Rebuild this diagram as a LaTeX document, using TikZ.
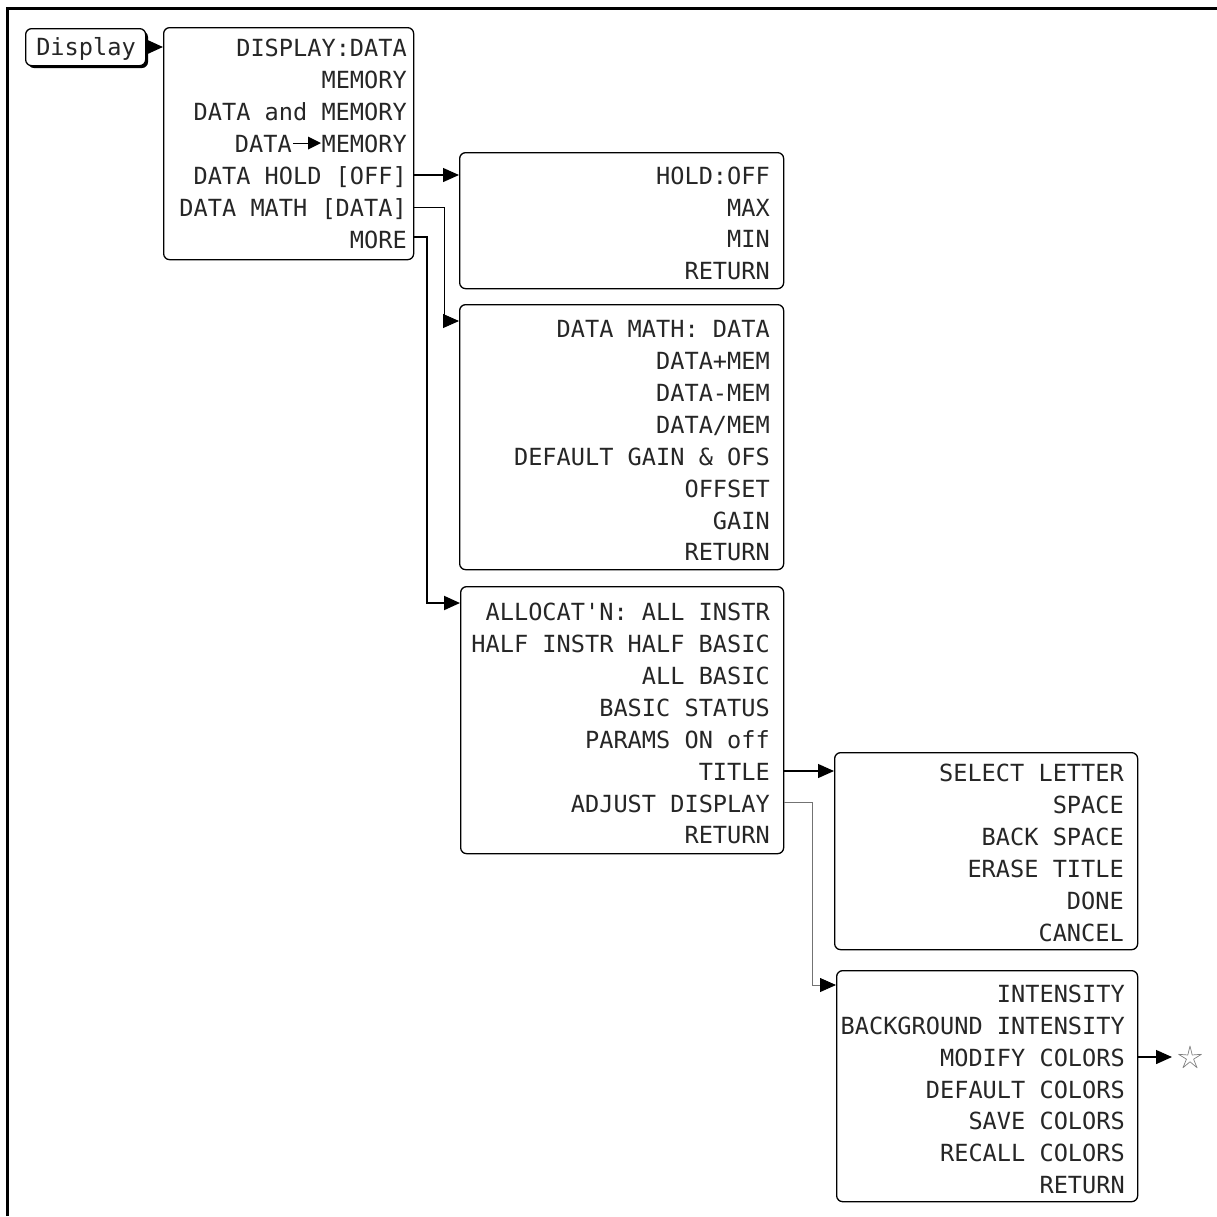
\documentclass[tikz,border=0pt]{standalone}
\usepackage{fontspec}
\newfontfamily\monofnt{DejaVu Sans Mono}
\usetikzlibrary{arrows.meta,shapes.geometric}
\begin{document}
\begin{tikzpicture}[x=1pt,y=-1pt,
  box/.style={draw,line width=1.3pt,rounded corners=6pt,anchor=north west,inner sep=0pt},
  txt/.style={anchor=base east,inner sep=0pt,text=black!85,font=\monofnt\fontsize{23.6}{28}\selectfont},
  tip/.style={-{Triangle[length=16pt,width=14pt,color=black]}},
  arr/.style={tip,line width=1.3pt},
  arrthick/.style={tip,line width=2pt},
  arrthin/.style={tip,line width=0.9pt},
  arrgrey/.style={tip,line width=0.9pt,draw=black!55},
  frame/.style={line width=3pt}]
\useasboundingbox (0,0) rectangle (1217,1216);
% frame
\draw[frame] (7,1216) -- (7,8) -- (1217,8);

% Display key with shadow
\fill[rounded corners=6pt] (28,31) rectangle (148,68);
\node[draw,fill=white,line width=1.3pt,rounded corners=6pt,anchor=north west,minimum width=120pt,minimum height=37pt,inner sep=0pt] (disp) at (25,28) {};
\node[txt,anchor=base] (dispt) at (86,55) {Display};

% Box 1
\node[box,minimum width=250pt,minimum height=232pt] (b1) at (163,27) {};
\node[txt] (b1r1) at (407,56) {DISPLAY:DATA};
\node[txt] (b1r2) at (407,88) {MEMORY};
\node[txt] (b1r3) at (407,120) {DATA and MEMORY};
\node[txt] (b1r4a) at (407,152) {MEMORY};
\node[txt] (b1r4b) at (292,152) {DATA};
\draw[line width=1pt] (293,143) -- (309,143);
\fill (308,136.5) -- (321,143) -- (308,149.5) -- cycle;
\node[txt] (b1r5) at (407,184) {DATA HOLD [OFF]};
\node[txt] (b1r6) at (407,216) {DATA MATH [DATA]};
\node[txt] (b1r7) at (407,248) {MORE};

% Box 2
\node[box,minimum width=324pt,minimum height=136pt] (b2) at (459,152) {};
\node[txt] (b2r1) at (770,184) {HOLD:OFF};
\node[txt] (b2r2) at (770,216) {MAX};
\node[txt] (b2r3) at (770,247) {MIN};
\node[txt] (b2r4) at (770,279) {RETURN};

% Box 3
\node[box,minimum width=324pt,minimum height=265pt] (b3) at (459,304) {};
\node[txt] (b3r1) at (770,337) {DATA MATH: DATA};
\node[txt] (b3r2) at (770,369) {DATA+MEM};
\node[txt] (b3r3) at (770,401) {DATA-MEM};
\node[txt] (b3r4) at (770,433) {DATA/MEM};
\node[txt] (b3r5) at (770,465) {DEFAULT GAIN \& OFS};
\node[txt] (b3r6) at (770,497) {OFFSET};
\node[txt] (b3r7) at (770,529) {GAIN};
\node[txt] (b3r8) at (770,560) {RETURN};

% Box 4
\node[box,minimum width=323pt,minimum height=267pt] (b4) at (460,586) {};
\node[txt] (b4r1) at (770,620) {ALLOCAT'N: ALL INSTR};
\node[txt] (b4r2) at (770,652) {HALF INSTR HALF BASIC};
\node[txt] (b4r3) at (770,684) {ALL BASIC};
\node[txt] (b4r4) at (770,716) {BASIC STATUS};
\node[txt] (b4r5) at (770,748) {PARAMS ON off};
\node[txt] (b4r6) at (770,780) {TITLE};
\node[txt] (b4r7) at (770,812) {ADJUST DISPLAY};
\node[txt] (b4r8) at (770,843) {RETURN};

% Box 5
\node[box,minimum width=303pt,minimum height=197pt] (b5) at (834,752) {};
\node[txt] (b5r1) at (1124,781) {SELECT LETTER};
\node[txt] (b5r2) at (1124,813) {SPACE};
\node[txt] (b5r3) at (1124,845) {BACK SPACE};
\node[txt] (b5r4) at (1124,877) {ERASE TITLE};
\node[txt] (b5r5) at (1124,909) {DONE};
\node[txt] (b5r6) at (1124,941) {CANCEL};

% Box 6
\node[box,minimum width=301pt,minimum height=231pt] (b6) at (836,970) {};
\node[txt] (b6r1) at (1125,1002) {INTENSITY};
\node[txt] (b6r2) at (1125,1034) {BACKGROUND INTENSITY};
\node[txt] (b6r3) at (1125,1066) {MODIFY COLORS};
\node[txt] (b6r4) at (1125,1098) {DEFAULT COLORS};
\node[txt] (b6r5) at (1125,1129) {SAVE COLORS};
\node[txt] (b6r6) at (1125,1161) {RECALL COLORS};
\node[txt] (b6r7) at (1125,1193) {RETURN};

% star
\node[draw=black!50,star,star points=5,star point ratio=3.2,minimum size=24pt,inner sep=0pt,line width=0.7pt,line join=round] (st) at (1190,1058) {};

% connector bend points
\coordinate (mathx) at (444,321);
\coordinate (morex) at (427,603);
\coordinate (adjx) at (812,985);

% connectors
\draw[arrthick] (disp.east |- 0,47) -- (b1.west |- 0,47);
\draw[arr] (b1.east |- 0,175) -- (b2.west |- 0,175);
\draw[arrthin] (b1.east |- 0,207) -| (mathx) -- (b3.west |- mathx);
\draw[arrthick] (b1.east |- 0,237) -| (morex) -- (b4.west |- morex);
\draw[arr] (b4.east |- 0,771) -- (b5.west |- 0,771);
\draw[arrgrey] (b4.east |- 0,802) -| (adjx) -- (b6.west |- adjx);
\draw[arr] (b6.east |- 0,1057) -- (1172,1057);
\end{tikzpicture}
\end{document}
